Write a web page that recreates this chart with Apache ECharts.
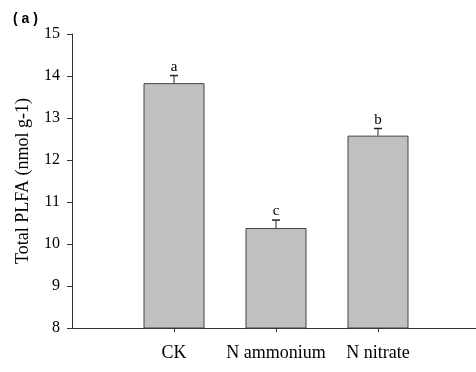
<!DOCTYPE html>
<html>
<head>
<meta charset="utf-8">
<script src="https://cdn.jsdelivr.net/npm/echarts@6/dist/echarts.min.js"></script>
<style>
html,body{margin:0;padding:0;background:#fff;}
#chart{width:476px;height:372px;}
</style>
</head>
<body>
<div id="chart"></div>
<script>
// Treatments and their mean total PLFA with standard errors
const categories = ['CK', 'N ammonium', 'N nitrate'];
const means = [13.83, 10.38, 12.58];
const errors = [0.18, 0.19, 0.17];
const letters = ['a', 'c', 'b'];
const yTicks = [8, 9, 10, 11, 12, 13, 14, 15];

// Pad the category axis with an empty slot on each side so the bars sit
// at the inner positions of a wider axis
const axisCats = [''].concat(categories, ['']);
const pad = v => ['-'].concat(v, ['-']);
const barData = pad(means);
const errData = categories.map((c, i) => [i + 1, means[i], errors[i], letters[i]]);

const serif = '"Liberation Serif", "Times New Roman", serif';
const axisColor = '#333';

const chart = echarts.init(document.getElementById('chart'), null, {renderer: 'canvas'});
chart.setOption({
  animation: false,
  backgroundColor: '#fff',
  title: {
    text: '( a )',
    left: 8, top: 7,
    textStyle: {fontFamily: '"Liberation Sans", Arial, sans-serif', fontWeight: 'bold', fontSize: 14, color: '#000'}
  },
  grid: {left: 72, top: 34, width: 408, height: 294, containLabel: false, outerBoundsMode: 'none'},
  xAxis: {
    type: 'category',
    data: axisCats,
    boundaryGap: false,
    axisLine: {lineStyle: {color: axisColor, width: 1}},
    axisTick: {
      length: 4,
      interval: (idx) => idx > 0 && idx < axisCats.length - 1,
      lineStyle: {color: axisColor}
    },
    axisLabel: {
      interval: 0,
      margin: 16,
      fontFamily: serif, fontSize: 18, color: '#000'
    },
    splitLine: {show: false}
  },
  yAxis: {
    type: 'value',
    min: yTicks[0], max: yTicks[yTicks.length - 1], interval: 1,
    name: 'Total PLFA (nmol g-1)',
    nameLocation: 'middle',
    nameGap: 40,
    nameTextStyle: {fontFamily: serif, fontSize: 18, color: '#000'},
    axisLine: {show: true, lineStyle: {color: axisColor, width: 1}},
    axisTick: {show: true, length: 5, lineStyle: {color: axisColor}},
    axisLabel: {margin: 12, fontFamily: serif, fontSize: 16, color: '#000'},
    splitLine: {show: false}
  },
  series: [
    {
      type: 'bar',
      data: barData,
      barWidth: 61,
      itemStyle: {color: '#c0c0c0', borderColor: '#444', borderWidth: 1}
    },
    {
      // upper error bars with caps and significance letters
      type: 'custom',
      data: errData,
      z: 5,
      renderItem: (params, api) => {
        const x = api.value(0), m = api.value(1), e = api.value(2);
        const base = api.coord([x, m]);
        const top = api.coord([x, m + e]);
        const cap = 4;
        return {
          type: 'group',
          children: [
            {type: 'line', shape: {x1: base[0], y1: base[1], x2: top[0], y2: top[1]},
             style: {stroke: '#222', lineWidth: 1}},
            {type: 'line', shape: {x1: top[0] - cap, y1: top[1], x2: top[0] + cap, y2: top[1]},
             style: {stroke: '#222', lineWidth: 1.5}},
            {type: 'text', x: top[0], y: top[1] - 1,
             style: {text: api.value(3), align: 'center', verticalAlign: 'bottom',
                     fontFamily: serif, fontSize: 15, fill: '#000'}}
          ]
        };
      }
    }
  ]
});
</script>
</body>
</html>
